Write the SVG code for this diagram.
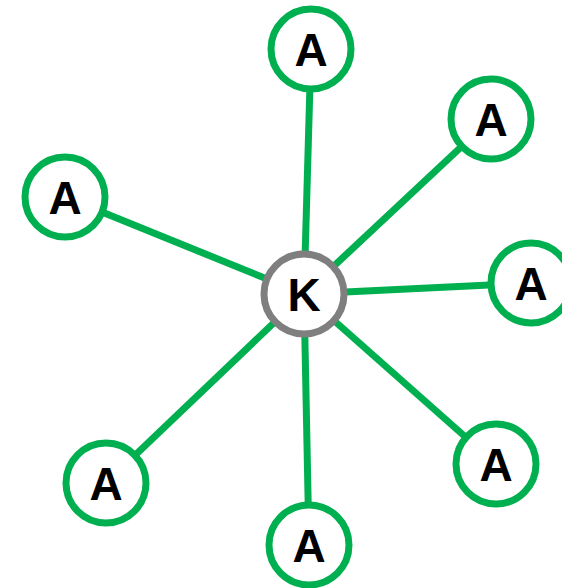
<svg xmlns="http://www.w3.org/2000/svg" width="562" height="588" viewBox="0 0 562 588">
<style>
.e{stroke:#00B050;stroke-width:7;fill:none}
.a{fill:#fff;stroke:#00B050;stroke-width:7}
.k{fill:#fff;stroke:#7F7F7F;stroke-width:7}
text{font-family:"Liberation Sans",Arial,sans-serif;font-weight:bold;font-size:46px;text-anchor:middle;fill:#000}
</style>
<rect width="562" height="588" fill="#fff"/>
<g id="edges">
<line class="e" x1="304" y1="294" x2="311" y2="49"/>
<line class="e" x1="304" y1="294" x2="491" y2="119"/>
<line class="e" x1="304" y1="294" x2="65" y2="197"/>
<line class="e" x1="304" y1="294" x2="531" y2="283"/>
<line class="e" x1="304" y1="294" x2="106" y2="483"/>
<line class="e" x1="304" y1="294" x2="309" y2="545"/>
<line class="e" x1="304" y1="294" x2="496" y2="464"/>
</g>
<g id="K"><circle class="k" cx="304" cy="294" r="40"/><text x="304" y="311">K</text></g>
<g id="A1"><circle class="a" cx="311" cy="49" r="40"/><text x="311" y="66">A</text></g>
<g id="A2"><circle class="a" cx="491" cy="119" r="40"/><text x="491" y="136">A</text></g>
<g id="A3"><circle class="a" cx="65" cy="197" r="40"/><text x="65" y="214">A</text></g>
<g id="A4"><circle class="a" cx="531" cy="283" r="40"/><text x="531" y="300">A</text></g>
<g id="A5"><circle class="a" cx="106" cy="483" r="40"/><text x="106" y="500">A</text></g>
<g id="A6"><circle class="a" cx="309" cy="545" r="40"/><text x="309" y="562">A</text></g>
<g id="A7"><circle class="a" cx="496" cy="464" r="40"/><text x="496" y="481">A</text></g>
</svg>
